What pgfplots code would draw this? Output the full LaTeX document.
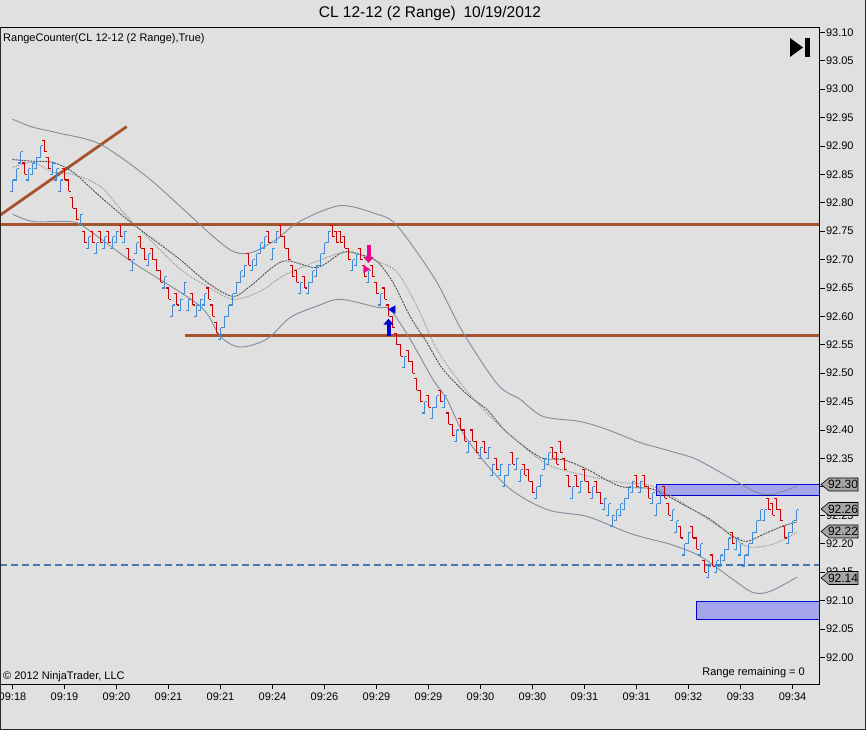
\documentclass[border=0pt]{standalone}
\usepackage{fontspec}
\setmainfont{Liberation Sans}
\usepackage{pgfplots}
\usepackage{pgfplotstable}
\pgfplotsset{compat=1.18}
\usetikzlibrary{arrows.meta}
\definecolor{bg}{RGB}{224,224,224}
\definecolor{barblue}{RGB}{66,139,212}
\definecolor{barred}{RGB}{200,0,0}
\definecolor{band}{RGB}{130,140,155}
\definecolor{brownline}{RGB}{165,82,45}
\definecolor{dashblue}{RGB}{70,120,180}
\definecolor{rectfill}{RGB}{165,165,235}
\definecolor{rectdraw}{RGB}{0,0,205}
\definecolor{markfill}{RGB}{165,165,165}
\definecolor{framecol}{RGB}{40,40,40}
\pgfdeclareplotmark{otick}{\pgfpathmoveto{\pgfqpoint{-2.6pt}{0pt}}\pgfpathlineto{\pgfqpoint{0pt}{0pt}}\pgfusepathqstroke}
\pgfdeclareplotmark{ctick}{\pgfpathmoveto{\pgfqpoint{0pt}{0pt}}\pgfpathlineto{\pgfqpoint{2.6pt}{0pt}}\pgfusepathqstroke}

\pgfplotstableread{
x lo
0 92.82
1 92.84
2 92.87
4 92.84
5 92.85
6 92.86
7 92.88
10 92.85
11 92.84
12 92.82
17 92.76
19 92.72
21 92.71
23 92.72
25 92.72
26 92.73
28 92.73
30 92.68
31 92.71
34 92.69
38 92.65
40 92.60
42 92.61
43 92.64
44 92.61
46 92.60
47 92.61
48 92.62
52 92.56
53 92.58
54 92.60
55 92.62
56 92.64
57 92.66
58 92.67
60 92.68
61 92.69
62 92.71
63 92.72
65 92.70
66 92.73
72 92.64
74 92.64
75 92.66
76 92.67
77 92.69
78 92.71
79 92.73
85 92.68
86 92.69
89 92.66
92 92.62
98 92.51
103 92.43
105 92.42
106 92.44
108 92.44
111 92.38
114 92.36
117 92.35
119 92.35
120 92.32
122 92.32
123 92.30
124 92.32
126 92.33
127 92.31
131 92.28
132 92.30
133 92.33
134 92.34
140 92.28
142 92.29
145 92.28
148 92.26
149 92.25
150 92.23
151 92.24
152 92.25
153 92.26
154 92.28
155 92.29
157 92.29
160 92.27
161 92.25
162 92.27
165 92.24
166 92.22
168 92.18
169 92.20
172 92.18
174 92.14
176 92.15
177 92.16
178 92.17
179 92.19
181 92.19
182 92.18
183 92.16
184 92.18
185 92.20
186 92.22
187 92.24
188 92.24
194 92.20
195 92.22
196 92.24
}\bluebars

\pgfplotstableread{
x lo
3 92.85
8 92.89
9 92.86
13 92.84
14 92.82
15 92.79
16 92.77
18 92.73
20 92.73
22 92.73
24 92.73
27 92.74
29 92.70
32 92.72
33 92.70
35 92.70
36 92.68
37 92.66
39 92.63
41 92.62
45 92.62
49 92.63
50 92.60
51 92.57
59 92.69
64 92.73
67 92.74
68 92.72
69 92.70
70 92.67
71 92.66
73 92.65
80 92.74
81 92.73
82 92.73
83 92.72
84 92.70
87 92.70
88 92.67
90 92.67
91 92.64
93 92.63
94 92.60
95 92.58
96 92.55
97 92.53
99 92.52
100 92.50
101 92.47
102 92.45
104 92.44
107 92.45
109 92.41
110 92.39
112 92.40
113 92.38
115 92.38
116 92.36
118 92.36
121 92.33
125 92.34
128 92.32
129 92.31
130 92.29
135 92.35
136 92.34
137 92.36
138 92.33
139 92.30
141 92.30
143 92.31
144 92.29
146 92.29
147 92.27
156 92.30
158 92.30
159 92.28
163 92.28
164 92.25
167 92.21
170 92.21
171 92.19
173 92.15
175 92.16
180 92.20
189 92.26
190 92.25
191 92.26
192 92.24
193 92.21
}\redbars

\begin{document}
\begin{tikzpicture}[x=1pt,y=1pt]
\path[use as bounding box, fill=bg] (0,0) rectangle (866,730);
\begin{axis}[
  at={(0pt,46pt)}, anchor=south west,
  scale only axis, width=819pt, height=657pt,
  xmin=-3.125, xmax=201.625,
  ymin=91.953, ymax=93.1093,
  axis background/.style={fill=bg},
  axis line style={black, line width=0.8pt},
  xtick={0,13,26,39,52,65,78,91,104,117,130,143,156,169,182,195},
  xticklabels={09:18,09:19,09:20,09:21,09:21,09:24,09:26,09:29,09:29,09:30,09:30,09:31,09:31,09:32,09:33,09:34},
  ytick={92.00,92.05,92.10,92.15,92.20,92.25,92.30,92.35,92.40,92.45,92.50,92.55,92.60,92.65,92.70,92.75,92.80,92.85,92.90,92.95,93.00,93.05,93.10},
  yticklabel={\pgfmathprintnumber[fixed,fixed zerofill,precision=2,assume math mode=true]{\tick}},
  xtick pos=left, ytick pos=right, yticklabel pos=right,
  tick align=outside,
  major tick length=5.5pt,
  tick style={black, line width=0.7pt},
  ticklabel style={font=\fontsize{11}{13}\selectfont, black},
  yticklabel style={xshift=-2pt},
  minor tick num=0,
]
% brown drawn lines
\addplot[brownline, line width=2.8pt, forget plot] coordinates {(-3.125,92.762) (201.625,92.762)};
\addplot[brownline, line width=2.8pt, forget plot] coordinates {(43.1,92.567) (201.625,92.567)};
\addplot[brownline, line width=2.8pt, forget plot] coordinates {(-3.125,92.778) (28.55,92.934)};
% dashed blue horizontal
\addplot[dashblue, line width=1.8pt, dash pattern=on 7pt off 4pt, forget plot] coordinates {(-3.125,92.163) (201.625,92.163)};
% rectangles
\addplot[draw=rectdraw, fill=rectfill, line width=0.9pt, forget plot] coordinates {(160.9,92.285) (202,92.285) (202,92.304) (160.9,92.304)} -- cycle;
\addplot[draw=rectdraw, fill=rectfill, line width=0.9pt, forget plot] coordinates {(170.9,92.067) (202,92.067) (202,92.098) (170.9,92.098)} -- cycle;
% upper band
\addplot[band, line width=0.9pt, smooth, tension=0.5, forget plot] coordinates {
(0,92.947) (5.1,92.933) (11.9,92.922) (21.9,92.903) (34.4,92.841) (50.1,92.741) (55.6,92.713) (60.1,92.713) (66.1,92.736) (71.5,92.766) (81.9,92.795) (91.1,92.780) (95.1,92.767) (99.4,92.730) (106.1,92.660) (112.6,92.572) (121.3,92.48) (126.9,92.454) (132.6,92.424) (141.9,92.415) (148.6,92.401) (156.9,92.378) (164.4,92.363) (171.1,92.348) (180.1,92.313) (186.1,92.290) (190.1,92.287) (196.1,92.301)};
% lower band
\addplot[band, line width=0.9pt, smooth, tension=0.5, forget plot] coordinates {
(0,92.780) (5.1,92.767) (13.6,92.767) (17.6,92.759) (30.1,92.695) (46.9,92.618) (51.9,92.565) (56.9,92.546) (63.6,92.560) (69.4,92.598) (76.1,92.618) (81.9,92.630) (91.1,92.616) (94.4,92.612) (99.4,92.560) (105.1,92.489) (108.6,92.454) (113.6,92.384) (123.6,92.301) (133.6,92.260) (143.6,92.248) (153.6,92.220) (159.4,92.208) (164.4,92.199) (171.9,92.178) (180.1,92.137) (185.1,92.114) (189.4,92.116) (196.1,92.141)};
% dashed average
\addplot[black!70, line width=0.9pt, dash pattern=on 2pt off 1pt, smooth, tension=0.5, forget plot] coordinates {
(0,92.876) (5.1,92.873) (10.1,92.871) (15.1,92.854) (21.9,92.811) (28.6,92.771) (35.1,92.736) (41.9,92.700) (48.6,92.660) (55.1,92.635) (59.4,92.653) (67.6,92.697) (76.1,92.686) (82.6,92.713) (86.9,92.709) (91.1,92.697) (95.1,92.660) (99.4,92.600) (103.6,92.554) (107.6,92.507) (113.6,92.463) (118.6,92.436) (123.6,92.396) (131.9,92.352) (137.6,92.348) (143.6,92.331) (151.9,92.301) (160.1,92.296) (167.6,92.269) (174.4,92.243) (180.1,92.213) (183.6,92.204) (187.6,92.216) (192.6,92.231) (196.1,92.238)};
% dotted average
\addplot[black!45, line width=0.9pt, densely dotted, smooth, tension=0.5, forget plot] coordinates {
(0,92.862) (5.1,92.871) (10.1,92.854) (15.1,92.850) (21.9,92.829) (28.6,92.776) (35.1,92.730) (41.9,92.683) (48.6,92.653) (55.1,92.630) (61.9,92.644) (67.6,92.671) (76.1,92.697) (83.6,92.713) (91.1,92.697) (96.1,92.678) (101.1,92.618) (106.1,92.542) (112.6,92.477) (119.4,92.424) (125.1,92.387) (133.6,92.340) (141.9,92.322) (151.9,92.308) (160.1,92.301) (170.1,92.260) (177.6,92.225) (183.6,92.195) (190.1,92.199) (196.1,92.220)};
% range bars: blue (up)
\addplot[draw=none, mark=none, forget plot, error bars/.cd, y dir=plus, y explicit, error mark=none, error bar style={draw=barblue, line width=1.4pt, solid}] table[x=x, y=lo, y error expr=0.02] {\bluebars};
\addplot[only marks, mark=otick, barblue, mark options={line width=1.1pt}, forget plot] table[x=x, y=lo] {\bluebars};
\addplot[only marks, mark=ctick, barblue, mark options={line width=1.1pt}, forget plot] table[x=x, y expr=\thisrow{lo}+0.02] {\bluebars};
% range bars: red (down)
\addplot[draw=none, mark=none, forget plot, error bars/.cd, y dir=plus, y explicit, error mark=none, error bar style={draw=barred, line width=1.4pt, solid}] table[x=x, y=lo, y error expr=0.02] {\redbars};
\addplot[only marks, mark=otick, barred, mark options={line width=1.1pt}, forget plot] table[x=x, y expr=\thisrow{lo}+0.02] {\redbars};
\addplot[only marks, mark=ctick, barred, mark options={line width=1.1pt}, forget plot] table[x=x, y=lo] {\redbars};
% signal arrows
\addplot[magenta, line width=4pt, -{Triangle[width=10pt,length=6pt]}, forget plot] coordinates {(89,92.726) (89,92.694)};
\addplot[only marks, mark=triangle*, mark size=4pt, magenta, mark options={rotate=-90}, forget plot] coordinates {(88.3,92.683)};
\addplot[blue!85!black, line width=4pt, -{Triangle[width=10pt,length=6pt]}, forget plot] coordinates {(94,92.566) (94,92.596)};
\addplot[only marks, mark=triangle*, mark size=4.5pt, blue!85!black, mark options={rotate=90}, forget plot] coordinates {(95.1,92.612)};
\end{axis}
% outer frame
\draw[framecol, line width=0.8pt] (0.4,703) -- (0.4,0.4) -- (865.6,0.4) -- (865.6,730);
% title and texts
\node[anchor=center, font=\fontsize{15.5}{18}\selectfont] at (430,716) {CL 12-12 (2 Range)\hspace{0.5em}10/19/2012};
\node[anchor=west, font=\fontsize{11}{13}\selectfont, inner sep=0pt] at (3,691) {RangeCounter(CL 12-12 (2 Range),True)};
\node[anchor=west, font=\fontsize{11}{13}\selectfont, inner sep=0pt] at (3,53) {© 2012 NinjaTrader, LLC};
\node[anchor=east, font=\fontsize{11}{13}\selectfont, inner sep=0pt] at (805,57) {Range remaining = 0};
% play-to-end icon
\fill[black] (790,692) -- (790,673) -- (803,682.5) -- cycle;
\fill[black] (805,673) rectangle (809.5,692);
% price markers
\foreach \yy/\txt in {245.5/92.30, 221/92.26, 198.5/92.22, 152/92.14}{
  \filldraw[fill=markfill, draw=black, line width=0.6pt] (821,\yy) -- (829,\yy+6.5) -- (858,\yy+6.5) -- (858,\yy-6.5) -- (829,\yy-6.5) -- cycle;
  \node[font=\fontsize{12}{14}\selectfont, inner sep=0pt] at (843,\yy) {\txt};
}
\end{tikzpicture}
\end{document}
